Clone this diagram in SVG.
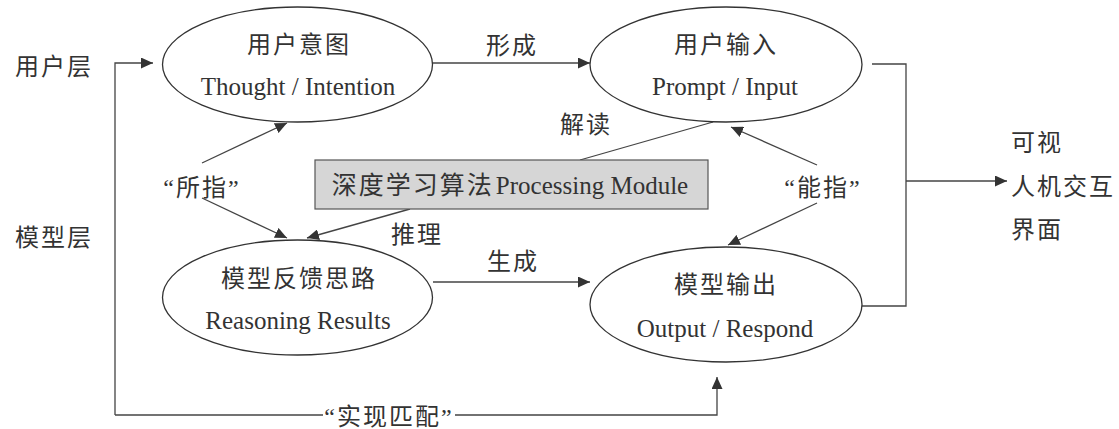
<svg xmlns="http://www.w3.org/2000/svg" width="1119" height="429" viewBox="0 0 1119 429">
<defs>
<marker id="ah" markerUnits="userSpaceOnUse" markerWidth="13" markerHeight="11" refX="12" refY="5.5" orient="auto">
<path d="M0,0 L12,5.5 L0,11 z" fill="#333"/>
</marker>
<style>
.e{fill:#fff;stroke:#333;stroke-width:1.3}
.c{fill:none;stroke:#444;stroke-width:1.3}
.a{marker-end:url(#ah)}
.zh{font-family:"Liberation Serif","Noto Sans CJK SC",serif;font-size:24px;letter-spacing:2px;fill:#333}
.en{font-family:"Liberation Serif",serif;font-size:25px;fill:#333}
.m{text-anchor:middle}
</style>
</defs>
<rect width="1119" height="429" fill="#fff"/>

<g id="connectors">
<line class="c a" x1="432" y1="63" x2="590" y2="63"/>
<line class="c a" x1="433" y1="282" x2="590" y2="282"/>
<polyline class="c a" points="115,415 115,63 153,63"/>
<polyline class="c" points="115,415 323,415"/>
<polyline class="c a" points="455,415 717,415 717,377"/>
<line class="c a" x1="202" y1="163" x2="287" y2="123"/>
<line class="c a" x1="202" y1="198" x2="287" y2="238"/>
<line class="c a" x1="410" y1="209" x2="307" y2="238"/>
<line class="c" x1="580" y1="160" x2="713" y2="122"/>
<line class="c a" x1="817" y1="165" x2="731" y2="127"/>
<line class="c a" x1="817" y1="203" x2="728" y2="245"/>
<polyline class="c" points="872,64 906,64 906,306 862,306"/>
<line class="c a" x1="906" y1="181" x2="1007" y2="181"/>
</g>

<g id="labels">
<text class="zh" x="15" y="75">用户层</text>
<text class="zh" x="15" y="246">模型层</text>
<text class="zh m" x="512" y="54">形成</text>
<text class="zh m" x="513" y="270">生成</text>
<text class="zh m" x="586" y="133">解读</text>
<text class="zh m" x="417" y="243">推理</text>
<text class="zh m" x="202" y="196">“所指”</text>
<text class="zh m" x="823" y="196">“能指”</text>
<text class="zh m" x="389" y="425">“实现匹配”</text>
<text class="zh" x="1011" y="151">可视</text>
<text class="zh" x="1011" y="195">人机交互</text>
<text class="zh" x="1011" y="238">界面</text>
</g>

<g id="node-intention">
<ellipse class="e" cx="297.5" cy="64.5" rx="135" ry="57.5"/>
<text class="zh m" x="299" y="53">用户意图</text>
<text class="en m" x="298" y="95">Thought / Intention</text>
</g>

<g id="node-input">
<ellipse class="e" cx="726" cy="64.5" rx="136" ry="57.5"/>
<text class="zh m" x="726" y="53">用户输入</text>
<text class="en m" x="725" y="95">Prompt / Input</text>
</g>

<g id="node-reasoning">
<ellipse class="e" cx="297.5" cy="297.5" rx="135" ry="57.5"/>
<text class="zh m" x="299" y="287">模型反馈思路</text>
<text class="en m" x="298" y="329">Reasoning Results</text>
</g>

<g id="node-output">
<ellipse class="e" cx="726" cy="304.5" rx="136" ry="57.5"/>
<text class="zh m" x="726" y="293">模型输出</text>
<text class="en m" x="725" y="337">Output / Respond</text>
</g>

<g id="node-module">
<rect x="315" y="160" width="393" height="49" fill="#d6d6d6" stroke="#555" stroke-width="1.2"/>
<text class="en m" x="510" y="194" style="font-family:'Liberation Serif','Noto Sans CJK SC',serif"><tspan style="letter-spacing:2px">深度学习算法</tspan><tspan dx="2">Processing Module</tspan></text>
</g>
</svg>
